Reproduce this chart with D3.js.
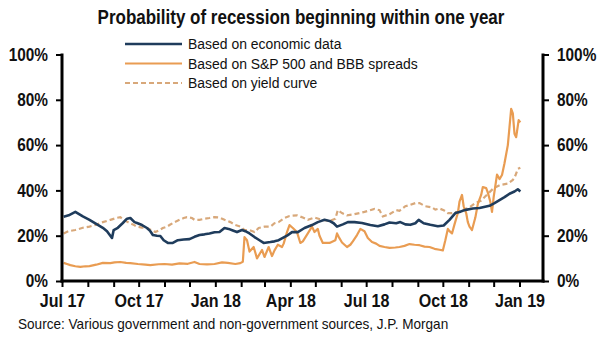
<!DOCTYPE html>
<html>
<head>
<meta charset="utf-8">
<script src="https://cdn.jsdelivr.net/npm/d3@7"></script>
<style>
  html, body { margin: 0; padding: 0; background: #fff; }
  svg { display: block; }
  text { font-family: "Liberation Sans", Arial, sans-serif; fill: #111; }
</style>
</head>
<body>
<svg id="chart" width="605" height="337"></svg>
<script>
// Recession probability series, in percent
const economicData = [
  ["2017-07-03", 28.4], ["2017-07-09", 29], ["2017-07-17", 30.5], ["2017-07-26", 28.5],
  ["2017-08-03", 27], ["2017-08-12", 25], ["2017-08-19", 23.5], ["2017-08-24", 22],
  ["2017-08-28", 20], ["2017-08-30", 19], ["2017-09-01", 22.5], ["2017-09-06", 23.5],
  ["2017-09-12", 25.6], ["2017-09-17", 27.5], ["2017-09-21", 27.8], ["2017-09-26", 26],
  ["2017-09-29", 25.6], ["2017-10-05", 24.7], ["2017-10-11", 23.4], ["2017-10-15", 22],
  ["2017-10-18", 20.3], ["2017-10-23", 20], ["2017-10-27", 19.9], ["2017-10-31", 18],
  ["2017-11-05", 16.8], ["2017-11-11", 16.8], ["2017-11-17", 18], ["2017-11-24", 18.3],
  ["2017-12-01", 18.5], ["2017-12-07", 19.5], ["2017-12-13", 20.3], ["2017-12-19", 20.6],
  ["2017-12-25", 21], ["2017-12-31", 21.5], ["2018-01-06", 21.6], ["2018-01-12", 23.4],
  ["2018-01-17", 23], ["2018-01-22", 22.3], ["2018-01-27", 21.6], ["2018-02-02", 22.5],
  ["2018-02-06", 22], ["2018-02-11", 21], ["2018-02-17", 19.4], ["2018-02-23", 18],
  ["2018-02-28", 16.8], ["2018-03-08", 17.2], ["2018-03-13", 17.5], ["2018-03-18", 18],
  ["2018-03-23", 19], ["2018-03-28", 20], ["2018-04-03", 21.6], ["2018-04-10", 21.6],
  ["2018-04-18", 23.4], ["2018-04-27", 24.7], ["2018-05-04", 26], ["2018-05-12", 27],
  ["2018-05-18", 26.5], ["2018-05-23", 25.5], ["2018-05-27", 24], ["2018-06-03", 25],
  ["2018-06-09", 26], ["2018-06-17", 26], ["2018-06-26", 25.6], ["2018-07-06", 24.7],
  ["2018-07-15", 24.2], ["2018-07-23", 25], ["2018-07-29", 25.8], ["2018-08-06", 25.5],
  ["2018-08-11", 26], ["2018-08-17", 25], ["2018-08-23", 24.8], ["2018-08-29", 25.5],
  ["2018-09-02", 27], ["2018-09-08", 25.5], ["2018-09-16", 24.8], ["2018-09-25", 24.2],
  ["2018-10-02", 24.5], ["2018-10-09", 27], ["2018-10-16", 30], ["2018-10-21", 30.5],
  ["2018-10-27", 31.3], ["2018-11-06", 32], ["2018-11-14", 32.2], ["2018-11-26", 33.2],
  ["2018-12-02", 34.4], ["2018-12-08", 35.7], ["2018-12-14", 37], ["2018-12-20", 38.5],
  ["2018-12-26", 39.5], ["2018-12-30", 40.5], ["2019-01-02", 39.5]
];

const marketData = [
  ["2017-07-03", 8], ["2017-07-07", 7.5], ["2017-07-11", 7], ["2017-07-17", 6.5],
  ["2017-07-23", 6.2], ["2017-07-29", 6.5], ["2017-08-03", 6.6], ["2017-08-11", 7.2],
  ["2017-08-19", 8], ["2017-08-28", 7.9], ["2017-09-02", 8.2], ["2017-09-09", 8.4],
  ["2017-09-16", 8], ["2017-09-21", 7.9], ["2017-09-30", 7.5], ["2017-10-09", 7.2],
  ["2017-10-15", 7], ["2017-10-25", 7.4], ["2017-11-01", 7.5], ["2017-11-10", 7.2],
  ["2017-11-19", 7.8], ["2017-11-29", 7.6], ["2017-12-07", 8.4], ["2017-12-13", 7.5],
  ["2017-12-22", 7.3], ["2017-12-31", 7.5], ["2018-01-09", 8.2], ["2018-01-16", 8],
  ["2018-01-25", 7.5], ["2018-01-31", 7.9], ["2018-02-03", 8.5], ["2018-02-05", 19.4],
  ["2018-02-08", 18], ["2018-02-11", 13], ["2018-02-16", 15], ["2018-02-20", 10],
  ["2018-02-26", 13.7], ["2018-03-01", 10.6], ["2018-03-06", 15], ["2018-03-10", 11],
  ["2018-03-13", 13.5], ["2018-03-17", 16], ["2018-03-22", 15], ["2018-03-24", 16.5],
  ["2018-03-28", 21.6], ["2018-03-31", 24.7], ["2018-04-04", 23.4], ["2018-04-09", 21.6],
  ["2018-04-13", 16.8], ["2018-04-16", 17.5], ["2018-04-22", 21], ["2018-04-27", 24],
  ["2018-04-30", 21.6], ["2018-05-04", 23], ["2018-05-06", 20], ["2018-05-10", 16.8],
  ["2018-05-18", 16.8], ["2018-05-25", 18], ["2018-05-27", 21], ["2018-05-29", 19.5],
  ["2018-06-02", 17], ["2018-06-08", 15], ["2018-06-12", 16], ["2018-06-15", 17.5],
  ["2018-06-20", 20.3], ["2018-06-24", 23], ["2018-06-29", 22], ["2018-07-03", 19],
  ["2018-07-08", 17.2], ["2018-07-13", 16.5], ["2018-07-17", 15.5], ["2018-07-23", 15],
  ["2018-07-29", 14.6], ["2018-08-05", 14.8], ["2018-08-10", 15], ["2018-08-16", 15.5],
  ["2018-08-22", 16.3], ["2018-08-28", 16], ["2018-09-03", 15.8], ["2018-09-09", 15.2],
  ["2018-09-15", 15], ["2018-09-21", 14.2], ["2018-09-27", 13.8], ["2018-10-01", 13.5],
  ["2018-10-04", 18], ["2018-10-07", 23], ["2018-10-09", 22], ["2018-10-12", 21],
  ["2018-10-15", 25], ["2018-10-19", 30], ["2018-10-21", 35], ["2018-10-24", 38],
  ["2018-10-26", 33], ["2018-10-29", 30], ["2018-10-31", 26], ["2018-11-02", 24],
  ["2018-11-05", 22.5], ["2018-11-09", 28], ["2018-11-12", 34], ["2018-11-16", 38],
  ["2018-11-18", 41.5], ["2018-11-22", 41], ["2018-11-24", 39], ["2018-11-27", 35],
  ["2018-11-29", 30.5], ["2018-12-01", 37], ["2018-12-05", 47], ["2018-12-08", 45],
  ["2018-12-11", 46.8], ["2018-12-14", 52], ["2018-12-18", 60], ["2018-12-20", 68],
  ["2018-12-22", 76], ["2018-12-24", 74], ["2018-12-26", 65], ["2018-12-28", 63.5],
  ["2018-12-31", 71], ["2019-01-02", 70]
];

const yieldCurveData = [
  ["2017-07-03", 21], ["2017-07-09", 22], ["2017-07-17", 22.5], ["2017-07-26", 23.5],
  ["2017-08-03", 24], ["2017-08-12", 25], ["2017-08-19", 26], ["2017-08-28", 27],
  ["2017-09-04", 27.8], ["2017-09-09", 28.2], ["2017-09-13", 27], ["2017-09-18", 26],
  ["2017-09-24", 25], ["2017-09-29", 24], ["2017-10-05", 23.6], ["2017-10-11", 23.4],
  ["2017-10-16", 22.5], ["2017-10-21", 21.6], ["2017-10-26", 22.5], ["2017-10-30", 23.4],
  ["2017-11-04", 24], ["2017-11-07", 24.7], ["2017-11-13", 26], ["2017-11-19", 27],
  ["2017-11-24", 27.8], ["2017-11-28", 28.2], ["2017-12-04", 27.8], ["2017-12-07", 27],
  ["2017-12-13", 27], ["2017-12-19", 27.5], ["2017-12-25", 27.8], ["2017-12-31", 28.2],
  ["2018-01-06", 28], ["2018-01-12", 27], ["2018-01-19", 26], ["2018-01-25", 24.7],
  ["2018-01-31", 24], ["2018-02-05", 22.5], ["2018-02-11", 22.5], ["2018-02-17", 21.6],
  ["2018-02-22", 23.4], ["2018-03-01", 24], ["2018-03-08", 24], ["2018-03-13", 25.5],
  ["2018-03-18", 26], ["2018-03-25", 27.8], ["2018-03-31", 28.7], ["2018-04-09", 29],
  ["2018-04-16", 28], ["2018-04-22", 27], ["2018-04-30", 28], ["2018-05-09", 27],
  ["2018-05-18", 26.5], ["2018-05-25", 27.5], ["2018-05-28", 31.3], ["2018-06-02", 30],
  ["2018-06-08", 29], ["2018-06-17", 29.5], ["2018-06-29", 30.5], ["2018-07-11", 31.8],
  ["2018-07-17", 31.3], ["2018-07-21", 28.5], ["2018-07-29", 29.5], ["2018-08-06", 31.3],
  ["2018-08-10", 31], ["2018-08-17", 33], ["2018-08-22", 33.5], ["2018-08-29", 34.4],
  ["2018-09-03", 34.4], ["2018-09-10", 33], ["2018-09-18", 32.5], ["2018-09-22", 31.5],
  ["2018-09-27", 32], ["2018-10-02", 31.3], ["2018-10-07", 30], ["2018-10-12", 30],
  ["2018-10-19", 30.5], ["2018-10-25", 31.3], ["2018-11-02", 32.5], ["2018-11-09", 34.4],
  ["2018-11-16", 35.5], ["2018-11-24", 38.5], ["2018-12-01", 41], ["2018-12-09", 42.4],
  ["2018-12-18", 43], ["2018-12-24", 44.6], ["2018-12-27", 46.5], ["2018-12-30", 49.5],
  ["2019-01-02", 50]
];

const seriesNames = [
  "Based on economic data",
  "Based on S&P 500 and BBB spreads",
  "Based on yield curve"
];
const yTicks = [0, 20, 40, 60, 80, 100];
const quarterLabels = ["Jul 17", "Oct 17", "Jan 18", "Apr 18", "Jul 18", "Oct 18", "Jan 19"];
const titleText = "Probability of recession beginning within one year";
const sourceText = "Source: Various government and non-government sources, J.P. Morgan";

const colors = { econ: "#1f3c5c", market: "#e99c52", curve: "#d8a87a" };

const svg = d3.select("#chart");
const parse = d3.timeParse("%Y-%m-%d");

const plot = { left: 62, right: 543, top: 54.5, bottom: 281 };

const x = d3.scaleTime()
  .domain([parse("2017-07-01"), parse("2019-01-01")])
  .range([plot.left, 519.5]);
const y = d3.scaleLinear().domain([0, 100]).range([plot.bottom, plot.top]);

// Narrow type: squeeze a text horizontally around its own anchor point
function narrowText(sel, s) {
  sel.each(function () {
    const t = d3.select(this);
    const xv = +(t.attr("x") || 0);
    t.attr("x", xv / s).attr("transform", `scale(${s},1)`);
  });
}
function placeText(x0, y0, s) {
  return `translate(${x0},${y0}) scale(${s},1)`;
}

// Title
svg.append("text")
  .attr("transform", placeText(301, 24, 0.85))
  .attr("text-anchor", "middle")
  .attr("font-size", 20).attr("font-weight", "bold")
  .text(titleText);

// Series lines
const line = d3.line()
  .x(d => x(parse(d[0])))
  .y(d => y(d[1]));

const g = svg.append("g");
g.append("path").datum(yieldCurveData)
  .attr("fill", "none").attr("stroke", colors.curve)
  .attr("stroke-width", 2.2).attr("stroke-dasharray", "5,3")
  .attr("d", line);
g.append("path").datum(marketData)
  .attr("fill", "none").attr("stroke", colors.market)
  .attr("stroke-width", 2.2).attr("stroke-linejoin", "round")
  .attr("d", line);
g.append("path").datum(economicData)
  .attr("fill", "none").attr("stroke", colors.econ)
  .attr("stroke-width", 2.6).attr("stroke-linejoin", "round")
  .attr("d", line);

// Axes
const fmtPct = d => d + "%";
const leftAxis = svg.append("g")
  .attr("transform", `translate(${plot.left},0)`)
  .call(d3.axisLeft(y).tickValues(yTicks).tickFormat(fmtPct).tickSizeOuter(0).tickSize(6).tickPadding(8));
const rightAxis = svg.append("g")
  .attr("transform", `translate(${plot.right},0)`)
  .call(d3.axisRight(y).tickValues(yTicks).tickFormat(fmtPct).tickSizeOuter(0).tickSize(6).tickPadding(8));

const months = d3.timeMonth.range(parse("2017-07-01"), parse("2019-01-02"));
const labelFmt = d3.timeFormat("%b %y");
const bottomAxis = svg.append("g")
  .attr("transform", `translate(0,${plot.bottom})`)
  .call(d3.axisBottom(x).tickValues(months)
    .tickFormat(d => quarterLabels.includes(labelFmt(d)) ? labelFmt(d) : "")
    .tickSizeOuter(0).tickSize(6).tickPadding(8));

[leftAxis, rightAxis, bottomAxis].forEach(a => {
  a.select(".domain").remove();
  a.selectAll(".tick line").attr("stroke", "#000").attr("stroke-width", 2);
  a.selectAll(".tick text")
    .attr("font-size", 17.5).attr("font-weight", "bold")
    .style("font-family", '"Liberation Sans", Arial, sans-serif')
    .style("fill", "#111");
});
narrowText(leftAxis.selectAll(".tick text"), 0.88);
narrowText(rightAxis.selectAll(".tick text"), 0.88);
narrowText(bottomAxis.selectAll(".tick text"), 0.92);

// Thick axis frame: left, right and bottom
const frame = svg.append("g").attr("stroke", "#000").attr("stroke-width", 3).attr("fill", "none");
frame.append("line").attr("x1", plot.left).attr("x2", plot.left).attr("y1", plot.top - 1).attr("y2", plot.bottom + 1.5);
frame.append("line").attr("x1", plot.right).attr("x2", plot.right).attr("y1", plot.top - 1).attr("y2", plot.bottom + 1.5);
frame.append("line").attr("x1", plot.left - 1.5).attr("x2", plot.right + 1.5).attr("y1", plot.bottom).attr("y2", plot.bottom);

// Legend
const legendRows = [
  { name: seriesNames[0], color: colors.econ, dash: null, w: 2.6 },
  { name: seriesNames[1], color: colors.market, dash: null, w: 2.2 },
  { name: seriesNames[2], color: colors.curve, dash: "5,3", w: 2.2 }
];
const legend = svg.append("g");
legendRows.forEach((r, i) => {
  const ly = 44 + i * 19.5;
  legend.append("line")
    .attr("x1", 125).attr("x2", 182).attr("y1", ly).attr("y2", ly)
    .attr("stroke", r.color).attr("stroke-width", r.w)
    .attr("stroke-dasharray", r.dash);
  legend.append("text")
    .attr("transform", placeText(188, ly + 5, 0.93))
    .attr("font-size", 15)
    .text(r.name);
});

// Source note
svg.append("text")
  .attr("transform", placeText(18, 329, 0.97))
  .attr("font-size", 14)
  .text(sourceText);
</script>
</body>
</html>
